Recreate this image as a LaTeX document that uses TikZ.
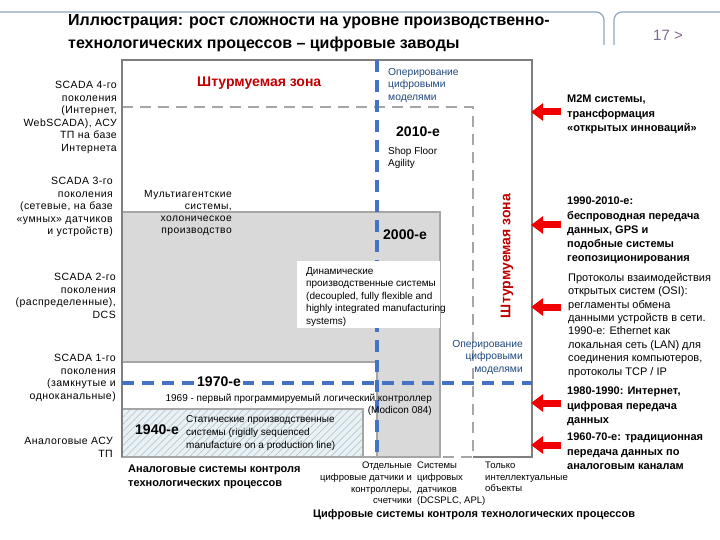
\documentclass[tikz,border=0pt]{standalone}
\usepackage{fontspec}
\setmainfont{Liberation Sans}
\newfontfamily\widesans[LetterSpace=4.5]{Liberation Sans}
\usepackage{tikz}
\usetikzlibrary{arrows.meta, positioning, patterns.meta}
\usepackage{xcolor}
\definecolor{boxgray}{HTML}{7F7F7F}
\definecolor{dashgray}{HTML}{A6A6A6}
\definecolor{zonefill}{HTML}{D9D9D9}
\definecolor{digblue}{HTML}{4472C4}
\definecolor{opnavy}{HTML}{1F497D}
\definecolor{zonered}{HTML}{C00000}
\definecolor{arrred}{HTML}{F00000}
\definecolor{hatchbg}{HTML}{EAF1F4}
\definecolor{hatchln}{HTML}{B4C8D2}
\definecolor{framebl}{HTML}{8EA6BC}
\definecolor{pagenum}{HTML}{7E6A8E}

\begin{document}
\begin{tikzpicture}[
  x=1pt, y=-1pt,
  gen/.style={inner sep=0pt, font=\fontsize{10}{12.5}\selectfont},
  lbl/.style={gen, align=right, anchor=north east,
    font=\widesans\fontsize{10.5}{12.6}\selectfont},
  txt/.style={gen, align=left, anchor=north west},
  decade/.style={inner sep=1pt, anchor=north west,
    font=\fontsize{14}{16}\selectfont\bfseries},
  opmod/.style={gen, text=opnavy, font=\fontsize{10.3}{12.5}\selectfont},
  zone/.style={inner sep=0pt, text=zonered,
    font=\fontsize{14}{16}\selectfont\bfseries},
  side/.style={txt, font=\fontsize{11}{14.2}\selectfont\bfseries},
  foot/.style={gen, font=\fontsize{9.5}{11.6}\selectfont},
  redarr/.style={line width=7pt, arrred,
    -{Triangle[length=12pt, width=17pt]}},
  gline/.style={dashgray, line width=1.5pt},
  gdash/.style={dashgray, line width=2pt, dash pattern=on 11pt off 7pt},
  bdash/.style={digblue, line width=3.5pt, dash pattern=on 12pt off 8pt}
]
  \useasboundingbox (0,0) rectangle (720,540);

  % Header
  \draw[framebl, line width=1.2pt, rounded corners=8pt]
    (0,12) -- (604,12) -- (604,45);
  \draw[framebl, line width=1.2pt, rounded corners=8pt]
    (614,45) -- (614,12) -- (720,12);
  \node[txt, font=\fontsize{16}{23}\selectfont\bfseries] (title) at (68,14)
    {Иллюстрация: рост сложности на уровне производственно-\\
     технологических процессов -- цифровые заводы};
  \node[inner sep=0pt, text=pagenum, font=\fontsize{15}{18}\selectfont]
    (page) at (668,35) {17 >};

  % Zones
  \draw[gline, fill=zonefill] (122,212) rectangle (440,457);
  \draw[gline, fill=white] (122,362) rectangle (377,457);
  \draw[gline, preaction={fill=hatchbg},
    pattern={Lines[angle=45, distance=5pt, line width=0.7pt]},
    pattern color=hatchln] (122,409) rectangle (363,457);
  \draw[gdash] (122,107) -- (473,107) -- (473,457) -- (122,457);
  \draw[boxgray, line width=2pt]
    (122,457) -- (122,60) -- (532,60) -- (532,457) -- (473,457);
  \draw[bdash] (377,60) -- (377,457);
  \draw[bdash] (122,383) -- (532,383);
  \fill[white] (297,261) rectangle (440,328);

  % Left labels
  \node[lbl] (sc4) at (117,81)
    {SCADA 4-го\\ поколения\\ (Интернет,\\ WebSCADA), АСУ\\ ТП на базе\\ Интернета};
  \node[lbl] (sc3) at (113,177)
    {SCADA 3-го\\ поколения\\ (сетевые, на базе\\ «умных» датчиков\\ и устройств)};
  \node[lbl] (sc2) at (116,273)
    {SCADA 2-го\\ поколения\\ (распределенные),\\ DCS};
  \node[lbl] (sc1) at (116,354)
    {SCADA 1-го\\ поколения\\ (замкнутые и\\ одноканальные)};
  \node[lbl] (asu) at (113,437) {Аналоговые АСУ\\ ТП};

  % Inside the frame
  \node[zone, anchor=north west] (zonetop) at (197,77) {Штурмуемая зона};
  \node[zone, rotate=90] (zoneside) at (507,256) {Штурмуемая зона};
  \node[opmod, align=left, anchor=north west] (op1) at (388,68)
    {Оперирование\\ цифровыми\\ моделями};
  \node[opmod, align=right, anchor=north east] (op2) at (523,340)
    {Оперирование\\ цифровыми\\ моделями};
  \node[decade] (d2010) at (395,126) {2010-е};
  \node[txt, font=\fontsize{10}{12}\selectfont] (agile) at (388,147)
    {Shop Floor\\ Agility};
  \node[lbl, font=\widesans\fontsize{10.3}{12}\selectfont] (multi) at (232,190)
    {Мультиагентские\\ системы,\\ холоническое\\ производство};
  \node[decade] (d2000) at (382,229) {2000-е};
  \node[txt] (dyn) at (306,267)
    {Динамические\\ производственные системы\\ (decoupled, fully flexible and\\
     highly integrated manufacturing\\ systems)};
  \node[inner sep=2pt, fill=white, font=\fontsize{14}{16}\selectfont\bfseries]
    (d1970) at (219,382) {1970-е};
  \node[gen, align=right, anchor=north east, font=\fontsize{10}{12}\selectfont]
    (plc) at (432,394)
    {1969 - первый программируемый логический контроллер\\ (Modicon 084)};
  \node[decade] (d1940) at (134,424) {1940-е};
  \node[txt, font=\fontsize{10}{13.3}\selectfont] (static) at (186,415)
    {Статические производственные\\ системы (rigidly sequenced\\
     manufacture on a production line)};

  % Right notes
  \node[side] (m2m) at (567,95)
    {M2M системы,\\ трансформация\\ «открытых инноваций»};
  \node[side] (gps) at (567,197)
    {1990-2010-е:\\ беспроводная передача\\ данных, GPS и\\ подобные системы\\
     геопозиционирования};
  \node[txt, font=\fontsize{11}{13.4}\selectfont] (osi) at (568,273)
    {Протоколы взаимодействия\\ открытых систем (OSI):\\ регламенты обмена\\
     данными устройств в сети.\\ 1990-е: Ethernet как\\ локальная сеть (LAN) для\\
     соединения компьютеров,\\ протоколы TCP / IP};
  \node[side] (inet) at (567,387)
    {1980-1990: Интернет,\\ цифровая передача\\ данных};
  \node[side] (analog) at (567,433)
    {1960-70-е: традиционная\\ передача данных по\\ аналоговым каналам};

  \coordinate (m2mt) at (561,112);  \coordinate (m2mh) at (531,112);
  \coordinate (gpst) at (561,225);  \coordinate (gpsh) at (531,225);
  \coordinate (osit) at (561,307);  \coordinate (osih) at (531,307);
  \coordinate (inett) at (561,403); \coordinate (ineth) at (531,403);
  \coordinate (anat) at (561,445);  \coordinate (anah) at (531,445);
  \draw[redarr] (m2mt) -- (m2mh);
  \draw[redarr] (gpst) -- (gpsh);
  \draw[redarr] (osit) -- (osih);
  \draw[redarr] (inett) -- (ineth);
  \draw[redarr] (anat) -- (anah);

  % Footer
  \node[side] (anasys) at (128,465)
    {Аналоговые системы контроля\\ технологических процессов};
  \node[foot, align=right, anchor=north east] (sep) at (412,462)
    {Отдельные\\ цифровые датчики и\\ контроллеры,\\ счетчики};
  \node[foot, align=left, anchor=north west] (dcs) at (417,462)
    {Системы\\ цифровых\\ датчиков\\ (DCSPLC, APL)};
  \node[foot, align=left, anchor=north west] (smart) at (485,462)
    {Только\\ интеллектуальные\\ объекты};
  \node[side] (digsys) at (313,509)
    {Цифровые системы контроля технологических процессов};
\end{tikzpicture}
\end{document}
